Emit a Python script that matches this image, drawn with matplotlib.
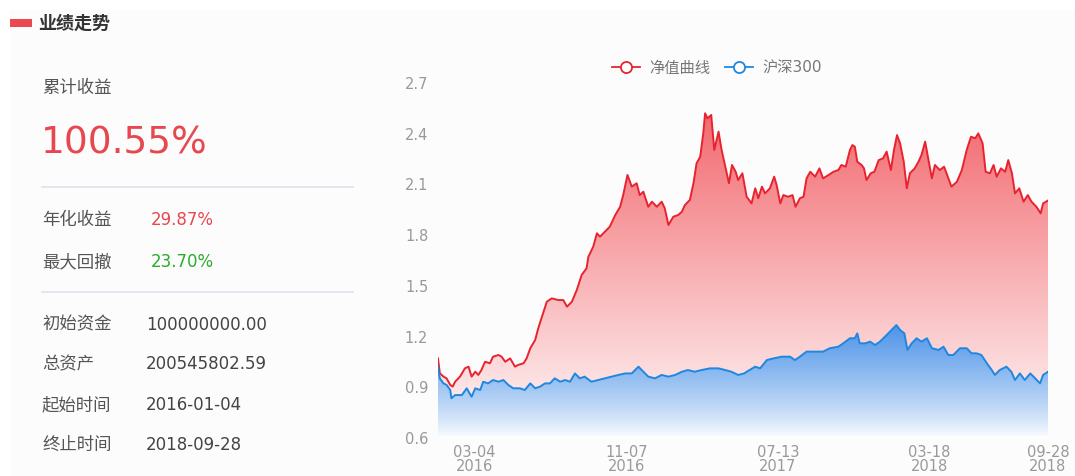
import numpy as np
import pandas as pd
import matplotlib
matplotlib.use("Agg")
import matplotlib.pyplot as plt
import matplotlib.dates as mdates
from matplotlib.patches import Rectangle
from matplotlib.lines import Line2D

plt.rcParams['font.family'] = ['DejaVu Sans', 'Noto Sans CJK SC']

# ---------------- data ----------------
start_date = "2016-01-04"
end_date = "2018-09-28"

nav_days = [0, 3, 9, 14, 20, 24, 28, 36, 44, 50, 55, 61, 66, 71, 77, 85, 90, 99, 104, 110,
            118, 126, 131, 140, 145, 151, 159, 164, 172, 178, 186, 197, 205, 211, 219, 227,
            235, 243, 246, 254, 260, 265, 273, 281, 290, 298, 303, 310, 317, 325, 330, 336,
            344, 350, 358, 366, 371, 377, 385, 393, 399, 404, 412, 418, 423, 429, 434, 437,
            441, 447, 452, 459, 464, 470, 476, 481, 487, 491, 498, 505, 513, 519, 524, 530,
            535, 543, 550, 554, 560, 565, 573, 580, 585, 592, 598, 603, 609, 617, 624, 630,
            639, 647, 655, 660, 667, 674, 678, 682, 686, 693, 697, 701, 708, 714, 721, 728,
            734, 741, 746, 751, 756, 762, 767, 772, 780, 786, 791, 797, 802, 808, 813, 821,
            828, 835, 840, 849, 857, 865, 872, 879, 884, 891, 896, 903, 909, 914, 921, 928,
            933, 939, 944, 951, 958, 965, 971, 979, 986, 990, 998]
nav_vals = [1.071, 0.983, 0.963, 0.953, 0.914, 0.904, 0.933, 0.963, 1.012, 1.022, 0.963, 0.992,
            0.973, 1.002, 1.051, 1.042, 1.081, 1.091, 1.081, 1.051, 1.071, 1.022, 1.032, 1.042,
            1.071, 1.131, 1.180, 1.249, 1.338, 1.406, 1.426, 1.416, 1.416, 1.377, 1.406, 1.475,
            1.564, 1.604, 1.672, 1.732, 1.811, 1.791, 1.820, 1.850, 1.919, 1.968, 2.037, 2.156,
            2.087, 2.107, 2.037, 2.057, 1.968, 1.998, 1.968, 1.998, 1.959, 1.860, 1.909, 1.919,
            1.939, 1.978, 2.008, 2.107, 2.225, 2.264, 2.402, 2.521, 2.491, 2.511, 2.304, 2.412,
            2.304, 2.205, 2.107, 2.215, 2.175, 2.126, 2.166, 2.027, 1.988, 2.077, 2.018, 2.087,
            2.047, 2.077, 2.146, 2.097, 1.988, 2.037, 2.027, 2.037, 1.968, 2.018, 2.027, 2.136,
            2.175, 2.146, 2.195, 2.136, 2.156, 2.175, 2.185, 2.215, 2.205, 2.304, 2.333, 2.323,
            2.234, 2.215, 2.195, 2.126, 2.166, 2.175, 2.244, 2.254, 2.294, 2.185, 2.304, 2.392,
            2.343, 2.234, 2.077, 2.166, 2.195, 2.234, 2.274, 2.353, 2.254, 2.136, 2.215, 2.185,
            2.205, 2.136, 2.087, 2.116, 2.185, 2.304, 2.382, 2.373, 2.402, 2.343, 2.175, 2.166,
            2.215, 2.146, 2.195, 2.175, 2.244, 2.166, 2.047, 2.077, 1.998, 2.037, 1.998, 1.968,
            1.929, 1.988, 2.005]

hs_days = [0, 3, 9, 14, 20, 22, 28, 39, 47, 55, 61, 69, 74, 82, 90, 99, 107, 115, 123, 134,
           142, 151, 159, 167, 175, 183, 191, 200, 208, 216, 224, 232, 240, 251, 262, 273, 284,
           295, 306, 317, 328, 336, 344, 355, 366, 377, 388, 399, 409, 420, 431, 445, 459, 470,
           480, 491, 501, 505, 519, 527, 538, 549, 562, 576, 584, 592, 603, 617, 630, 641, 655,
           663, 674, 682, 686, 690, 699, 707, 715, 723, 734, 742, 750, 756, 763, 768, 775, 783,
           791, 800, 808, 819, 827, 835, 843, 854, 865, 873, 881, 889, 898, 906, 911, 919, 930,
           938, 944, 952, 960, 969, 977, 985, 990, 998]
hs_vals = [1.022, 0.953, 0.923, 0.914, 0.884, 0.835, 0.854, 0.854, 0.894, 0.844, 0.894, 0.884,
           0.933, 0.923, 0.943, 0.933, 0.943, 0.914, 0.894, 0.894, 0.884, 0.923, 0.894, 0.904,
           0.923, 0.923, 0.953, 0.933, 0.943, 0.933, 0.982, 0.953, 0.963, 0.933, 0.943, 0.953,
           0.963, 0.973, 0.982, 0.982, 1.022, 0.992, 0.963, 0.953, 0.973, 0.963, 0.973, 0.992,
           1.002, 0.992, 1.002, 1.012, 1.012, 1.002, 0.992, 0.973, 0.982, 0.992, 1.022, 1.012,
           1.061, 1.071, 1.081, 1.081, 1.061, 1.081, 1.111, 1.111, 1.111, 1.131, 1.140, 1.160,
           1.190, 1.190, 1.219, 1.160, 1.160, 1.170, 1.150, 1.170, 1.209, 1.239, 1.268, 1.239,
           1.219, 1.121, 1.160, 1.190, 1.170, 1.190, 1.131, 1.121, 1.140, 1.091, 1.091, 1.131,
           1.131, 1.101, 1.101, 1.091, 1.042, 1.002, 0.973, 1.002, 1.022, 0.992, 0.943, 0.982,
           0.943, 0.982, 0.953, 0.923, 0.973, 0.992]

series_names = ["净值曲线", "沪深300"]
y_ticks = [0.6, 0.9, 1.2, 1.5, 1.8, 2.1, 2.4, 2.7]
x_tick_dates = ["2016-03-04", "2016-11-07", "2017-07-13", "2018-03-18", "2018-09-28"]

panel_title = "业绩走势"
stat_labels = ["累计收益", "年化收益", "最大回撤", "初始资金", "总资产", "起始时间", "终止时间"]
stat_values = ["100.55%", "29.87%", "23.70%", "100000000.00", "200545802.59", "2016-01-04", "2018-09-28"]

# ---------------- figure ----------------
W, H = 1075, 476
fig = plt.figure(figsize=(W / 100, H / 100), dpi=100)
fig.patch.set_facecolor("white")


def P(x, y):
    return x / W, 1 - y / H


# card background (very faint)
fig.patches.append(Rectangle(P(10, 476), 1065 / W, 466 / H, transform=fig.transFigure,
                             facecolor="#fcfcfd", edgecolor="none", zorder=-5))
# header marker
fig.patches.append(Rectangle(P(10, 27), 22 / W, 8 / H, transform=fig.transFigure,
                             facecolor="#e84a50", edgecolor="none"))
fig.text(*P(38, 23), panel_title, fontsize=13, fontweight="bold", color="#333333",
         va="center", ha="left", family=["Noto Sans CJK SC"])

red_txt = "#e8474f"
green_txt = "#2aad2a"
lab_col = "#555555"
val_col = "#444444"

fig.text(*P(42, 88.5), stat_labels[0], fontsize=12.5, color=lab_col, va="center",
         family=["Noto Sans CJK SC"])
fig.text(*P(41, 144), stat_values[0], fontsize=27, color=red_txt, va="center")

for yy in (187.5, 291.5):
    fig.add_artist(Line2D([42 / W, 353 / W], [1 - yy / H, 1 - yy / H], transform=fig.transFigure,
                          color="#dfe2ec", lw=1.2))

rows = [(220, 1, 151, red_txt), (262, 2, 151, green_txt), (324.5, 3, 146, val_col),
        (364, 4, 146, val_col), (405, 5, 146, val_col), (445, 6, 146, val_col)]
for yy, i, vx, vc in rows:
    fig.text(*P(42, yy), stat_labels[i], fontsize=12.5, color=lab_col, va="center",
             family=["Noto Sans CJK SC"])
    fig.text(*P(vx, yy), stat_values[i], fontsize=12, color=vc, va="center")

# ---------------- chart ----------------
x0 = pd.Timestamp(start_date)
x1 = pd.Timestamp(end_date)
nav_x = mdates.date2num(x0 + pd.to_timedelta(nav_days, unit="D"))
hs_x = mdates.date2num(x0 + pd.to_timedelta(hs_days, unit="D"))
nav_y = np.array(nav_vals)
hs_y = np.array(hs_vals)

ymin, ymax = 0.6, 2.85
left_px, right_px = 438, 1048
bot_px = 438
top_px = bot_px - (ymax - ymin) * (438 - 83) / 2.1
ax = fig.add_axes([left_px / W, 1 - bot_px / H, (right_px - left_px) / W, (bot_px - top_px) / H])
ax.set_zorder(5)
ax.set_facecolor("none")
ax.set_xlim(mdates.date2num(x0), mdates.date2num(x1))
ax.set_ylim(ymin, ymax)


def grad_fill(xs, ys, c_top, c_bot, power, z):
    poly = ax.fill(np.r_[xs[0], xs, xs[-1]], np.r_[ymin, ys, ymin], facecolor="none",
                   edgecolor="none", zorder=z)[0]
    ytop = ys.max()
    n = 256
    t = (np.linspace(0, 1, n) ** power)[:, None]
    ct = np.array(c_top) / 255.0
    cb = np.array(c_bot) / 255.0
    cols = cb + (ct - cb) * t
    img = cols.reshape(n, 1, 3)
    im = ax.imshow(img, aspect="auto", origin="lower", extent=[xs[0], xs[-1], ymin, ytop],
                   zorder=z, interpolation="bilinear")
    im.set_clip_path(poly)


grad_fill(nav_x, nav_y, (242, 106, 112), (255, 250, 250), 1.0, 1)
grad_fill(hs_x, hs_y, (78, 148, 232), (255, 255, 255), 0.8, 2)

red_line = "#e8232e"
blue_line = "#1f87e0"
ax.plot(nav_x, nav_y, color=red_line, lw=1.4, zorder=3)
ax.plot(hs_x, hs_y, color=blue_line, lw=1.4, zorder=4)

ax.set_xlim(mdates.date2num(x0), mdates.date2num(x1))
ax.set_ylim(ymin, ymax)

for s in ax.spines.values():
    s.set_visible(False)
ax.set_yticks(y_ticks)
ax.set_yticklabels([f"{v:.1f}" for v in y_ticks])
xt = [mdates.date2num(pd.Timestamp(d)) for d in x_tick_dates]
ax.set_xticks(xt)
ax.set_xticklabels([pd.Timestamp(d).strftime("%m-%d") + "\n" + pd.Timestamp(d).strftime("%Y")
                    for d in x_tick_dates], linespacing=0.95)
ax.tick_params(axis="both", length=0, colors="#999999", labelsize=10.5)
ax.tick_params(axis="y", pad=7)
ax.tick_params(axis="x", pad=5)

handles = [Line2D([], [], color=red_line, lw=1.3, marker="o", markersize=8,
                  markerfacecolor="white", markeredgecolor=red_line, markeredgewidth=1.3),
           Line2D([], [], color=blue_line, lw=1.3, marker="o", markersize=8,
                  markerfacecolor="white", markeredgecolor=blue_line, markeredgewidth=1.3)]
leg = fig.legend(handles, series_names, loc="center", bbox_to_anchor=P(717, 68), ncol=2,
                 frameon=False, fontsize=11, handlelength=1.8, handletextpad=0.6,
                 columnspacing=1.0, labelcolor="#777777")

fig.savefig("out.png", dpi=100, facecolor="white")
